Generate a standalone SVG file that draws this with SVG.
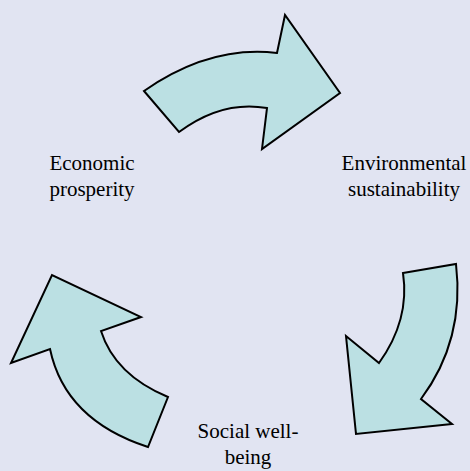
<svg xmlns="http://www.w3.org/2000/svg" width="470" height="471" viewBox="0 0 470 471">
<style>
.arrow{fill:#BBE0E3;stroke:#000;stroke-width:2;stroke-linejoin:miter}
.lbl{font-family:"Liberation Serif","Times New Roman",serif;font-size:21px;fill:#000;text-anchor:middle}
</style>
<rect width="470" height="471" fill="#E1E4F2"/>
<g id="connectors">
<path id="arrow-top" class="arrow" d="M144,91 L179,132 Q222,100 267,108 L262,149 L340,93 L285,15 L277,53 Q210,45 144,91 Z"/>
<path id="arrow-right" class="arrow" d="M403,273 L456,264 Q465,340 421,399 L452,424 L356,434 L346,336 L379,363 Q410,320 403,273 Z"/>
<path id="arrow-left" class="arrow" d="M168,397 L148,447 Q65,420 50,349 L11,363 L52,275 L141,317 L101,331 Q115,375 168,397 Z"/>
</g>
<g id="node-economic">
<text class="lbl" x="92" y="170">Economic</text>
<text class="lbl" x="92" y="196">prosperity</text>
</g>
<g id="node-environmental">
<text class="lbl" x="404" y="170">Environmental</text>
<text class="lbl" x="404" y="196">sustainability</text>
</g>
<g id="node-social">
<text class="lbl" x="248" y="438">Social well-</text>
<text class="lbl" x="248" y="464">being</text>
</g>
</svg>
